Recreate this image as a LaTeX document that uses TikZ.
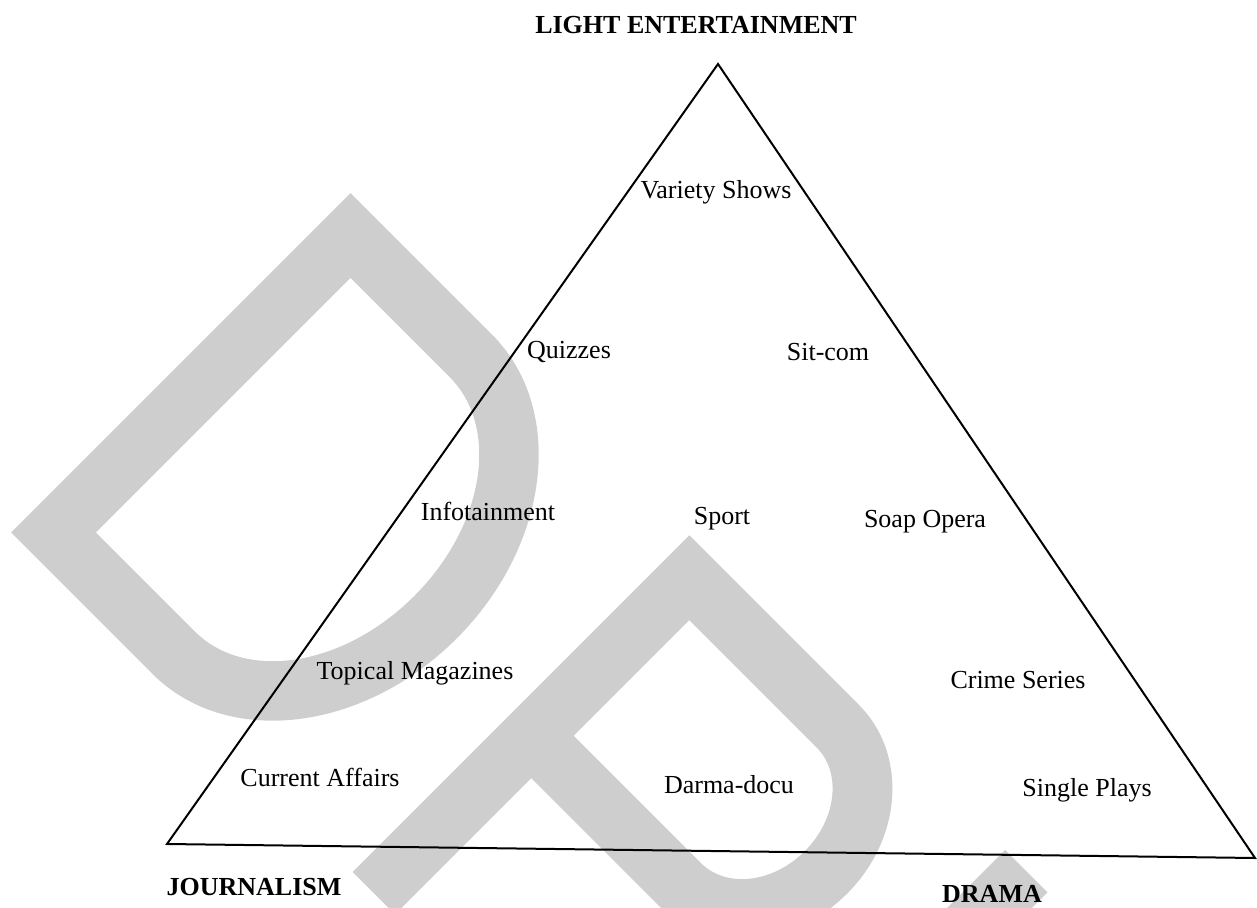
\documentclass[tikz,border=0pt]{standalone}
\usepackage{fontspec}
\setmainfont{Liberation Serif}
\definecolor{watermark}{HTML}{CECECE}
\tikzset{
	genre/.style={font=\fontsize{13}{15}\selectfont, inner sep=0pt, text height=8.6pt, text depth=0pt},
	pole/.style={genre, font=\bfseries\fontsize{13}{15}\selectfont},
	letter/.style={fill=watermark, even odd rule},
}
\begin{document}
\begin{tikzpicture}[x=0.5pt, y=-0.5pt]
	\useasboundingbox (0,0) rectangle (1257,908);
	% watermark
	\begin{scope}
		\clip (0,0) rectangle (1257,908);
		\begin{scope}[shift={(180.75,362.75)}, x={(0.3536pt,-0.3536pt)}, y={(0.3536pt,0.3536pt)}]
			\fill[letter] (0,240) -- (200,240) arc[start angle=90, end angle=-90, x radius=190, y radius=240] -- (0,-240) -- cycle
				(60,180) -- (200,180) arc[start angle=90, end angle=-90, x radius=130, y radius=180] -- (60,-180) -- cycle;
		\end{scope}
		\begin{scope}[shift={(689.25,535.25)}, x={(0.3536pt,-0.3536pt)}, y={(0.3536pt,0.3536pt)}]
			\fill[letter] (0,0) -- (240,0) arc[start angle=90, end angle=-90, x radius=125, y radius=141.75] -- (60,-283.5) -- (60,-476) -- (0,-476) -- cycle
				(60,-60) -- (240,-60) arc[start angle=90, end angle=-90, x radius=65, y radius=81.75] -- (60,-223.5) -- cycle;
		\end{scope}
		\begin{scope}[shift={(1005,850)}, x={(0.3536pt,-0.3536pt)}, y={(0.3536pt,0.3536pt)}]
			\fill[letter] (0,0) -- (60,0) -- (60,-200) -- (0,-200) -- cycle;
		\end{scope}
	\end{scope}
	% triangle
	\coordinate (apex) at (718,64);
	\coordinate (jcorner) at (167,844);
	\coordinate (dcorner) at (1255,858);
	\draw[line width=1pt] (apex) -- (jcorner) -- (dcorner) -- cycle;
	% poles
	\node[pole] (light) at (696,25) {LIGHT ENTERTAINMENT};
	\node[pole] (journalism) at (254,887) {JOURNALISM};
	\node[pole] (drama) at (992,894) {DRAMA};
	% genres
	\node[genre] (variety) at (716,190) {Variety Shows};
	\node[genre] (quizzes) at (569,350) {Quizzes};
	\node[genre] (sitcom) at (828,352) {Sit-com};
	\node[genre] (infotainment) at (488,512) {Infotainment};
	\node[genre] (sport) at (722,516) {Sport};
	\node[genre] (soap) at (925,519) {Soap Opera};
	\node[genre] (topical) at (415,671) {Topical Magazines};
	\node[genre] (crime) at (1018,680) {Crime Series};
	\node[genre] (current) at (320,778) {Current Affairs};
	\node[genre] (docu) at (729,785) {Darma-docu};
	\node[genre] (single) at (1087,788) {Single Plays};
\end{tikzpicture}
\end{document}
